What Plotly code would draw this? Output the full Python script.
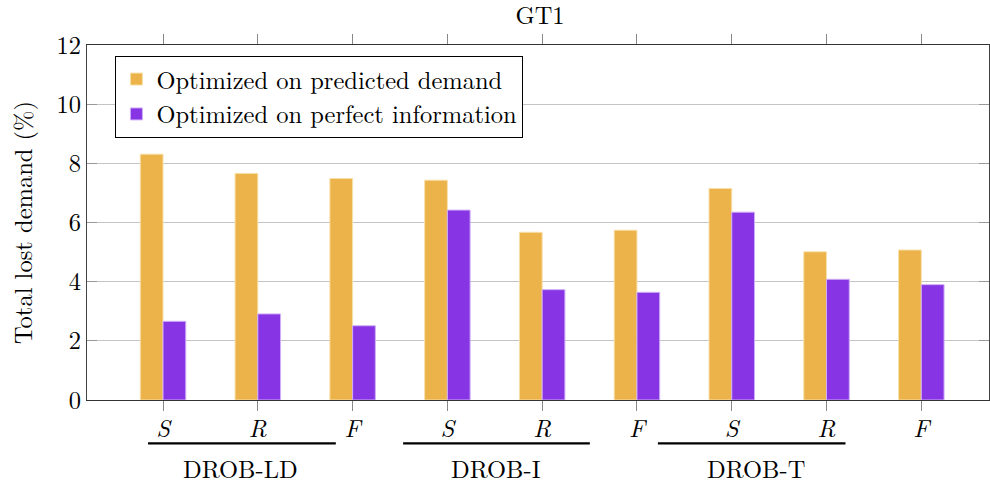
import plotly.graph_objects as go

# Categories (policy per method group) and results
methods = ["DROB-LD", "DROB-I", "DROB-T"]
policies = ["S", "R", "F"]
tick_labels = ["<i>S</i>", "<i>R</i>", "<i>F</i>"] * 3
predicted = [8.31, 7.66, 7.49, 7.43, 5.67, 5.74, 7.15, 5.01, 5.07]
perfect = [2.66, 2.91, 2.51, 6.42, 3.73, 3.64, 6.35, 4.08, 3.90]
series_names = ["Optimized on predicted demand", "Optimized on perfect information"]

x = list(range(len(predicted)))

FONT = "Latin Modern Roman"
FS = 24.5
ORANGE = "#EBB349"
PURPLE = "#8735E4"

fig = go.Figure()
fig.add_trace(go.Bar(
    x=x, y=predicted, name=series_names[0],
    width=0.24, offset=-0.24,
    marker=dict(color=ORANGE, line=dict(color="#F8E0AA", width=1)),
))
fig.add_trace(go.Bar(
    x=x, y=perfect, name=series_names[1],
    width=0.24, offset=0.0,
    marker=dict(color=PURPLE, line=dict(color="#D0AEF6", width=1)),
))

# group brackets and names under the tick labels
group_lines = [(-0.158, 1.823), (2.533, 4.503), (5.221, 7.20)]
group_centers = [0.815, 3.51, 6.26]
for (x0, x1), xc, name in zip(group_lines, group_centers, methods):
    fig.add_shape(type="line", xref="x", yref="paper", x0=x0, x1=x1,
                  y0=-0.122, y1=-0.122, line=dict(color="black", width=2.2))
    fig.add_annotation(xref="x", yref="paper", x=xc, y=-0.189, text=name,
                       showarrow=False, xanchor="center", yanchor="middle",
                       font=dict(family=FONT, size=FS, color="black"))

fig.update_layout(
    width=990, height=484,
    margin=dict(l=87, r=1, t=45, b=84),
    paper_bgcolor="white", plot_bgcolor="white",
    font=dict(family=FONT, size=FS, color="black"),
    title=dict(text="GT1", x=0.5455, xanchor="center", y=0.968, yanchor="middle",
               yref="container", font=dict(family=FONT, size=FS, color="black")),
    barmode="overlay",
    showlegend=True,
    legend=dict(x=0.0315, y=0.97, xanchor="left", yanchor="top",
                bgcolor="white", bordercolor="black", borderwidth=1,
                font=dict(family=FONT, size=FS), itemwidth=30,
                tracegroupgap=0),
)
fig.update_xaxes(
    range=[-0.802, 8.714], tickmode="array", tickvals=x, ticktext=tick_labels,
    ticks="outside", ticklen=10, tickcolor="#888", tickwidth=1,
    showline=True, linecolor="#333", linewidth=1.3, mirror="ticks",
    showgrid=False, zeroline=False, ticklabelstandoff=-4,
    tickfont=dict(family=FONT, size=FS),
)
fig.update_yaxes(
    range=[0, 12], tickmode="linear", tick0=0, dtick=2,
    ticks="inside", ticklen=10, tickcolor="#999", tickwidth=1,
    showline=True, linecolor="#444", linewidth=1.3, mirror="allticks",
    showgrid=True, gridcolor="#C4C4C4", gridwidth=1.2, zeroline=False,
    tickfont=dict(family=FONT, size=FS),
    title=dict(text="Total lost demand (%)", standoff=16,
               font=dict(family=FONT, size=FS)),
)

fig.write_html("out.html")
